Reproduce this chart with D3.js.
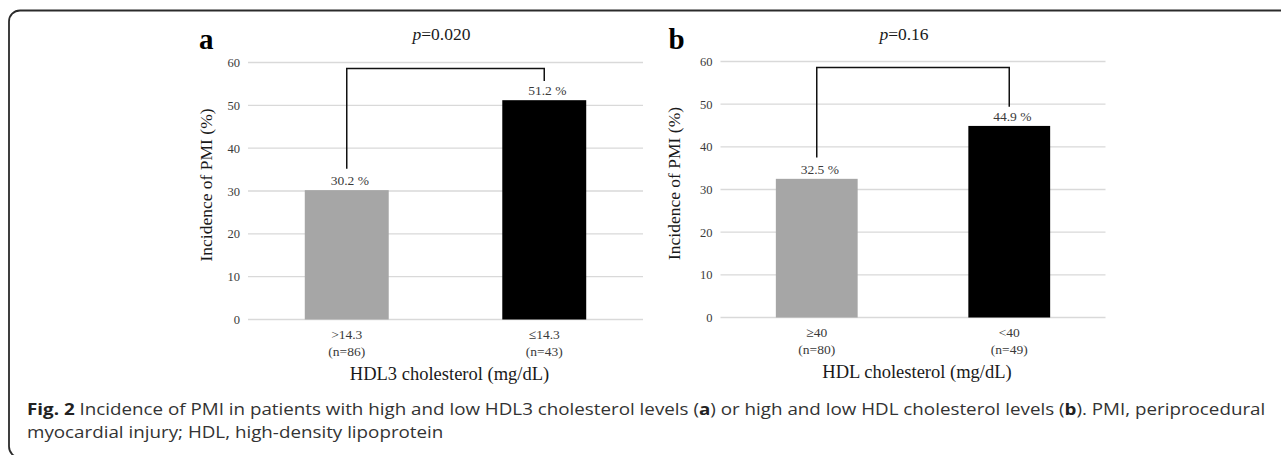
<!DOCTYPE html>
<html>
<head>
<meta charset="utf-8">
<script src="https://cdn.jsdelivr.net/npm/d3@7"></script>
<style>
  body { margin: 0; background: #fff; }
  svg { display: block; }
</style>
</head>
<body>
<svg id="s" width="1281" height="455"></svg>
<script>
// values
var yTicks = [0, 10, 20, 30, 40, 50, 60];
var yLabel = "Incidence of PMI (%)";

var catsA = [">14.3", "\u226414.3"];
var nA = ["(n=86)", "(n=43)"];
var valsA = [30.2, 51.2];
var pA = "=0.020";
var titleA = "HDL3 cholesterol (mg/dL)";

var catsB = ["\u226540", "<40"];
var nB = ["(n=80)", "(n=49)"];
var valsB = [32.5, 44.9];
var pB = "=0.16";
var titleB = "HDL cholesterol (mg/dL)";

var captionLine1 = [
  ["Fig. 2", true],
  [" Incidence of PMI in patients with high and low HDL3 cholesterol levels (", false],
  ["a", true],
  [") or high and low HDL cholesterol levels (", false],
  ["b", true],
  ["). PMI, periprocedural", false]
];
var captionLine2 = "myocardial injury; HDL, high-density lipoprotein";

var serif = "'Liberation Serif', 'Times New Roman', serif";
var barColors = ["#a6a6a6", "#000000"];

var svg = d3.select("#s");

// frame round the whole figure
svg.append("rect")
  .attr("x", 9).attr("y", 10.5)
  .attr("width", 1300).attr("height", 447)
  .attr("rx", 11)
  .attr("fill", "none").attr("stroke", "#2b2b2b").attr("stroke-width", 1.8);

var panels = [
  {letter: "a", cats: catsA, ns: nA, vals: valsA, p: pA, title: titleA,
   x: [248, 643], y: [319.5, 62.5], pdx: -4, lx: 206, ax: 199},
  {letter: "b", cats: catsB, ns: nB, vals: valsB, p: pB, title: titleB,
   x: [720.5, 1105.5], y: [317.5, 61.5], pdx: -9, lx: 673.5, ax: 668.5}
];

var drawPanel = function(p) {
  var g = svg.append("g");
  var x = d3.scaleBand().domain(p.cats).range(p.x)
    .paddingInner(0.575).paddingOuter(0.2875);
  var y = d3.scaleLinear().domain([0, 60]).range(p.y);
  var cx = function(i) { return x(p.cats[i]) + x.bandwidth() / 2; };

  // gridlines
  g.selectAll("line.grid").data(yTicks).enter().append("line")
    .attr("class", "grid")
    .attr("x1", p.x[0]).attr("x2", p.x[1])
    .attr("y1", function(d) { return y(d); })
    .attr("y2", function(d) { return y(d); })
    .attr("stroke", "#d9d9d9").attr("stroke-width", 1.3);

  // y axis
  var yax = g.append("g")
    .attr("transform", "translate(" + p.x[0] + ",0)")
    .call(d3.axisLeft(y).tickValues(yTicks).tickSize(0).tickPadding(8));
  yax.select(".domain").remove();
  yax.selectAll("text")
    .attr("font-family", serif).attr("font-size", 12.5).attr("fill", "#3a3a3a");

  // bars
  g.selectAll("rect.bar").data(p.vals).enter().append("rect")
    .attr("class", "bar")
    .attr("x", function(d, i) { return x(p.cats[i]); })
    .attr("width", x.bandwidth())
    .attr("y", function(d) { return y(d); })
    .attr("height", function(d) { return y(0) - y(d); })
    .attr("fill", function(d, i) { return barColors[i]; });

  // value labels
  g.selectAll("text.val").data(p.vals).enter().append("text")
    .attr("class", "val")
    .attr("x", function(d, i) { return cx(i) + 3; })
    .attr("y", function(d) { return y(d) - 5; })
    .attr("text-anchor", "middle")
    .attr("font-family", serif).attr("font-size", 13.5).attr("fill", "#3a3a3a")
    .text(function(d) { return d.toFixed(1) + " %"; });

  // category labels, two lines each
  var cl = g.selectAll("text.cat").data(p.cats).enter().append("text")
    .attr("class", "cat")
    .attr("text-anchor", "middle")
    .attr("font-family", serif).attr("font-size", 13.5).attr("fill", "#3a3a3a");
  cl.append("tspan")
    .attr("x", function(d, i) { return cx(i); })
    .attr("y", y(0) + 19.5)
    .text(function(d) { return d; });
  cl.append("tspan")
    .attr("x", function(d, i) { return cx(i); })
    .attr("y", y(0) + 36.5)
    .text(function(d, i) { return p.ns[i]; });

  // x title
  g.append("text")
    .attr("x", (p.x[0] + p.x[1]) / 2 + 4).attr("y", y(0) + 60.5)
    .attr("text-anchor", "middle")
    .attr("font-family", serif).attr("font-size", 18.5).attr("fill", "#1a1a1a")
    .text(p.title);

  // y title
  g.append("text")
    .attr("transform", "translate(" + p.lx + "," + (y(30) - 6) + ") rotate(-90)")
    .attr("dy", "0.35em")
    .attr("text-anchor", "middle")
    .attr("font-family", serif).attr("font-size", 17.5).attr("fill", "#1a1a1a")
    .text(yLabel);

  // significance bracket
  var br = d3.path();
  br.moveTo(cx(0), y(p.vals[0] + 5));
  br.lineTo(cx(0), y(58.6));
  br.lineTo(cx(1), y(58.6));
  br.lineTo(cx(1), y(p.vals[1] + 4.5));
  g.append("path").attr("d", br.toString())
    .attr("fill", "none").attr("stroke", "#111").attr("stroke-width", 1.5);

  // p value
  var pt = g.append("text")
    .attr("x", (cx(0) + cx(1)) / 2 + p.pdx).attr("y", 40)
    .attr("text-anchor", "middle")
    .attr("font-family", serif).attr("font-size", 17.5).attr("fill", "#1a1a1a");
  pt.append("tspan").attr("font-style", "italic").text("p");
  pt.append("tspan").text(p.p);

  // panel letter
  g.append("text")
    .attr("x", p.ax).attr("y", 48.5)
    .attr("font-family", serif).attr("font-size", 29).attr("font-weight", "bold")
    .attr("fill", "#000")
    .text(p.letter);
};

panels.forEach(drawPanel);

// caption, squeezed to the width it takes in the figure
var capFont = "'Open Sans', 'Noto Sans', sans-serif";
var c1 = svg.append("text")
  .attr("font-family", capFont).attr("font-size", 16.5).attr("fill", "#333");
c1.selectAll("tspan").data(captionLine1).enter().append("tspan")
  .attr("font-weight", function(d) { return d[1] ? "bold" : "normal"; })
  .attr("fill", function(d) { return d[1] ? "#222" : "#333"; })
  .text(function(d) { return d[0]; });
var w1 = c1.node().getBBox().width;
var k = 1239 / w1;
c1.attr("transform", "translate(27,415) scale(" + k + ",1)");

svg.append("text")
  .attr("font-family", capFont).attr("font-size", 16.5).attr("fill", "#333")
  .attr("transform", "translate(27,438) scale(" + k + ",1)")
  .text(captionLine2);
</script>
</body>
</html>
